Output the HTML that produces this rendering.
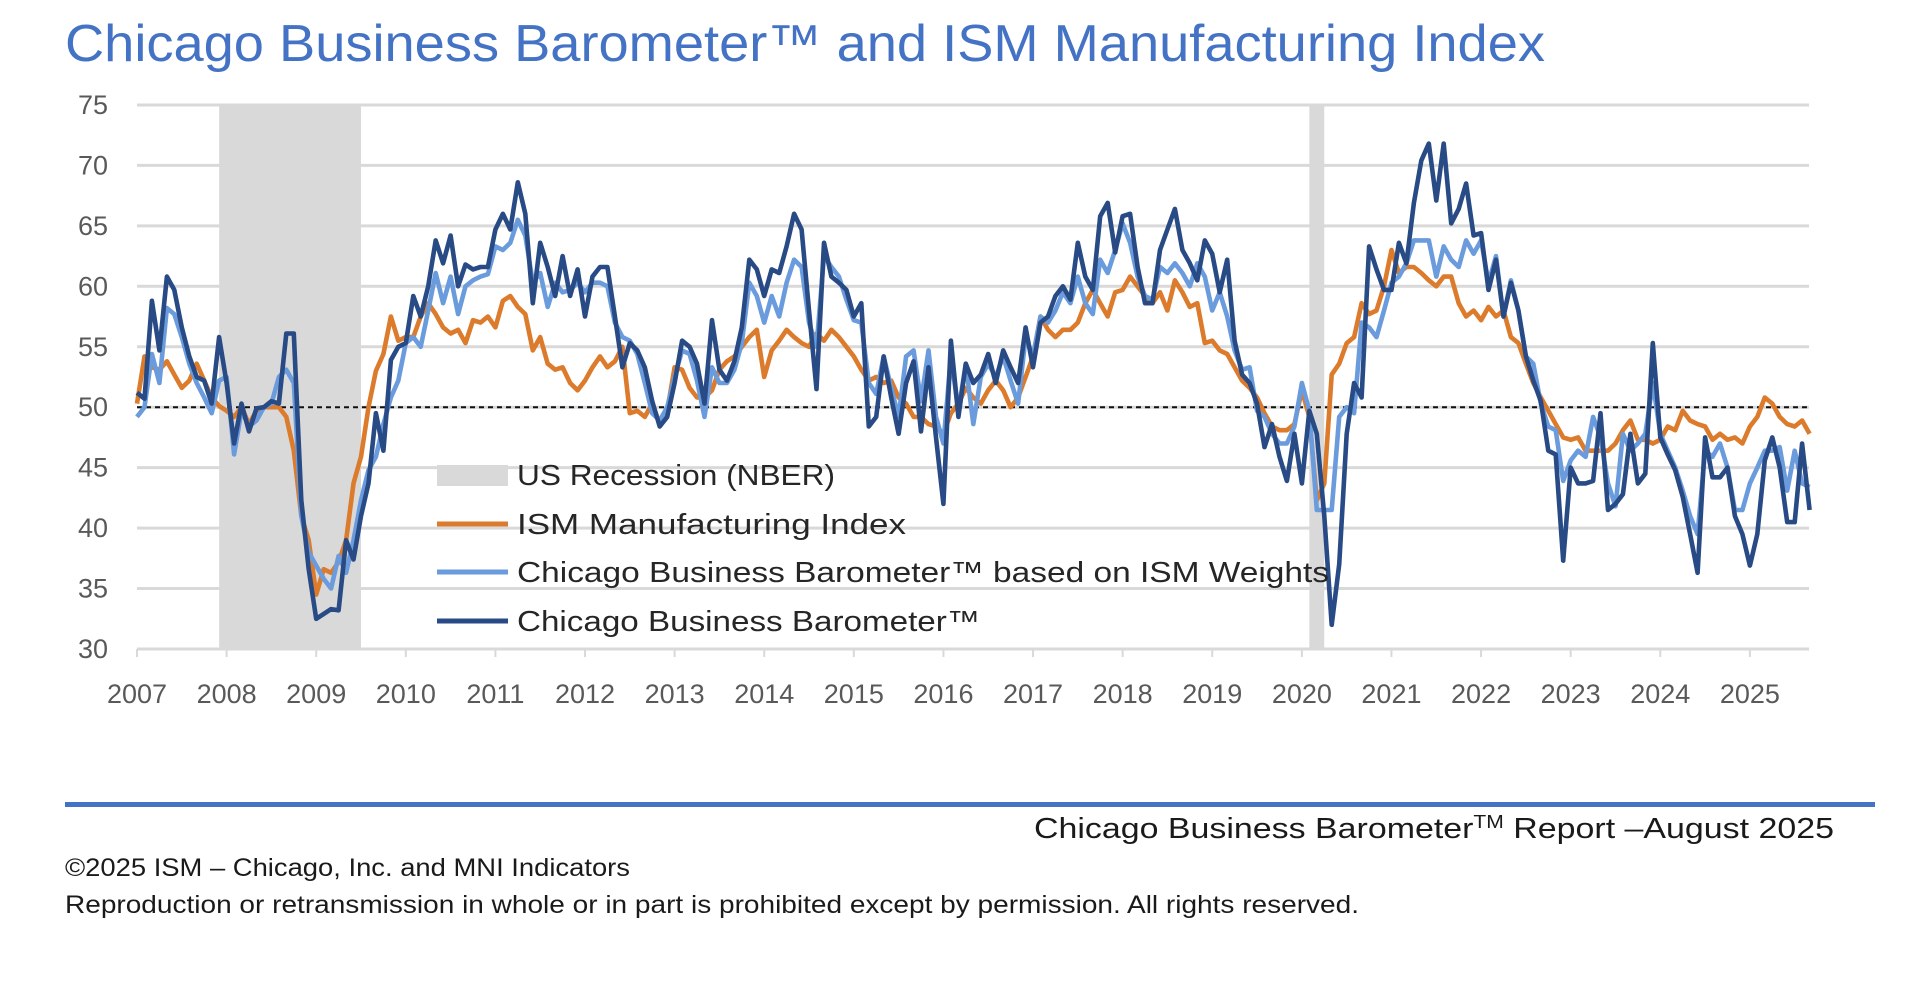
<!DOCTYPE html>
<html><head><meta charset="utf-8"><style>
html,body{margin:0;padding:0;background:#fff;}
svg{display:block;font-family:"Liberation Sans",sans-serif;}
</style></head><body>
<svg id="chart" width="1919" height="993" viewBox="0 0 1919 993" xmlns="http://www.w3.org/2000/svg">
<text x="65" y="61" font-size="52" fill="#4472C4" textLength="1480" lengthAdjust="spacingAndGlyphs">Chicago Business Barometer™ and ISM Manufacturing Index</text>
<g id="bands"></g>
<g id="grid"></g>
<g id="yaxis"></g>
<g id="xaxis"></g>
<g id="series"></g>
<g id="legend">
 <g><rect x="437" y="465" width="71" height="21" fill="#d9d9d9"/><text x="517" y="485" font-size="29" fill="#262626" textLength="318" lengthAdjust="spacingAndGlyphs">US Recession (NBER)</text></g>
 <g><line x1="437" y1="524" x2="508" y2="524" stroke="#DB7B2B" stroke-width="5"/><text x="517" y="534" font-size="29" fill="#262626" textLength="389" lengthAdjust="spacingAndGlyphs">ISM Manufacturing Index</text></g>
 <g><line x1="437" y1="572" x2="508" y2="572" stroke="#6A9BDC" stroke-width="5"/><text x="517" y="582" font-size="29" fill="#262626" textLength="812" lengthAdjust="spacingAndGlyphs">Chicago Business Barometer™ based on ISM Weights</text></g>
 <g><line x1="437" y1="621" x2="508" y2="621" stroke="#284A85" stroke-width="5"/><text x="517" y="631" font-size="29" fill="#262626" textLength="463" lengthAdjust="spacingAndGlyphs">Chicago Business Barometer™</text></g>
</g>
<rect x="65" y="802" width="1810" height="5" fill="#4472C4"/>
<text x="1034" y="838" font-size="29" fill="#1a1a1a" textLength="800" lengthAdjust="spacingAndGlyphs">Chicago Business Barometer<tspan dy="-10" font-size="18">TM</tspan><tspan dy="10"> Report –August 2025</tspan></text>
<text x="65" y="876" font-size="25" fill="#1a1a1a" textLength="565" lengthAdjust="spacingAndGlyphs">©2025 ISM – Chicago, Inc. and MNI Indicators</text>
<text x="65" y="913" font-size="25" fill="#1a1a1a" textLength="1294" lengthAdjust="spacingAndGlyphs">Reproduction or retransmission in whole or in part is prohibited except by permission. All rights reserved.</text>
</svg>
<script>
const yTicks = [30,35,40,45,50,55,60,65,70,75];
const yearLabels = ["2007","2008","2009","2010","2011","2012","2013","2014","2015","2016","2017","2018","2019","2020","2021","2022","2023","2024","2025"];
const recessions = [[11,30],[157,159]];
const cbb = [
51.2,50.7,58.8,54.7,60.8,59.7,56.6,54.2,52.5,52.2,50.3,55.8,
52,47,50.3,48,49.9,50,50.5,50.3,56.1,56.1,42.3,36.6,
32.5,32.9,33.3,33.2,39,37.4,41,43.7,49.5,46.4,53.9,55,
55.3,59.2,57.5,60,63.8,61.9,64.2,60,61.8,61.4,61.6,61.6,
64.7,66,64.7,68.6,66,58.6,63.6,61.6,59.2,62.5,59.2,61.4,
57.5,60.8,61.6,61.6,57.5,53.3,55.3,54.7,53.3,50.5,48.4,49.2,
52,55.5,55,53.6,50.3,57.2,53.1,52.2,53.8,56.6,62.2,61.4,
59.2,61.4,61.1,63.3,66,64.7,58,51.5,63.6,60.8,60.3,59.7,
57.5,58.6,48.4,49.2,54.2,50.8,47.8,52,53.8,48,53.3,47.5,
42,55.5,49.2,53.6,52,52.7,54.4,52,54.7,53.3,52,56.6,
53.3,57,57.5,59.2,60,58.9,63.6,60.8,59.7,65.8,66.9,62.8,
65.8,66,61.6,58.6,58.6,63,64.7,66.4,63,61.9,60.5,63.8,
62.7,59.5,62.2,55.5,52.7,52,50.3,46.7,48.6,45.9,43.9,47.8,
43.7,49.7,47.8,41,32,37,47.8,52,50.8,63.3,61.4,59.7,
59.7,63.6,61.9,66.9,70.4,71.8,67.1,71.8,65.2,66.4,68.5,64.2,
64.4,59.7,62.2,57.5,60.3,58,54.2,52.2,50.5,46.4,46.1,37.3,
45,43.7,43.7,43.9,49.5,41.5,42,42.8,47.8,43.7,44.5,55.3,
47.5,46.1,44.8,42.6,39.5,36.3,47.5,44.2,44.2,45,41,39.5,
36.9,39.5,45.6,47.5,45,40.5,40.5,47,41.5];
const cbbIsmWeights = [
49.2,50,54.4,52,58.2,57.7,55.8,53.6,52,50.8,49.5,52.2,
52.5,46.1,49.7,48.4,48.9,50,50.3,52.5,53.1,52,41,38,
36.9,35.8,35,37.7,36.3,39,42.3,44.8,45.9,48.6,50.8,52.2,
55.3,55.8,55,58,61.1,58.6,60.8,57.7,60,60.5,60.8,61,
63.3,63,63.6,65.5,64.2,60.3,61.1,58.3,60.3,59.5,59.7,60.3,
59.5,60.3,60.3,60,57,55.8,55.5,54.4,52,49.5,48.9,50,
52.5,54.7,54.4,52.2,49.2,53.3,52,52,53.1,55.3,60.3,59.2,
57,59.2,57.5,60.3,62.2,61.6,57,55,62.5,61.6,60.8,58.9,
57.2,57,52,51.1,54.2,51.6,49.2,54.2,54.7,50.5,54.7,49.2,
47,54.2,49.7,53.6,48.6,52.5,53.6,52.5,54.2,52.2,50.3,55.8,
54.2,57.5,57,58,59.5,58.6,60.8,58.6,57.7,62.2,61.1,63,
65.2,63.6,60.8,59.2,58.9,61.6,61.1,61.9,61.1,60,61.9,60.8,
58,59.5,57.5,54.7,53.1,53.3,49.7,49.2,47.8,47,47,48.4,
52,49.7,41.5,41.5,41.5,49.2,50,49.5,57,56.6,55.8,58,
60.3,60.8,61.9,63.8,63.8,63.8,60.8,63.3,62.2,61.6,63.8,62.7,
63.8,60.3,62.5,57.5,60.5,58,54.2,53.6,50.3,48.4,48.1,43.9,
45.6,46.4,45.9,49.2,47.5,43.7,41.8,47.8,46.4,47,47.8,52,
47.8,46.4,45,43.1,41,39.5,46.4,45.9,47,45,41.5,41.5,
43.7,45,46.4,46.4,46.7,43.1,46.4,43.7,43.4];
const ism = [
50.3,54.2,53.3,53.1,53.8,52.7,51.6,52.2,53.6,52.2,50.8,50.1,
49.7,49.2,50,48.6,49.7,50,50,50,49.2,46.4,41,39,
34.5,36.6,36.3,37.2,39,43.7,45.9,50,53,54.4,57.5,55.5,
55.8,55.8,57.5,58.6,57.7,56.6,56.1,56.4,55.3,57.2,57,57.5,
56.6,58.8,59.2,58.3,57.7,54.7,55.8,53.6,53.1,53.3,52,51.4,
52.2,53.3,54.2,53.3,53.8,55,49.5,49.7,49.2,50.3,48.6,49.7,
53.3,53.1,51.6,50.8,50.8,51.4,53.1,53.8,54.2,55,55.8,56.4,
52.5,54.7,55.5,56.4,55.8,55.3,55,56.1,55.5,56.4,55.8,55,
54.2,53.1,52.2,52.5,52,52.2,50.8,50.3,49.2,49.2,48.6,48.4,
47.8,49.5,50.3,51.6,50.8,50.3,51.4,52.2,51.4,50,50.8,52.5,
54.2,57.5,56.4,55.8,56.4,56.4,57,58.6,59.7,58.6,57.5,59.5,
59.7,60.8,60,59.2,58.6,59.5,58,60.5,59.5,58.3,58.6,55.3,
55.5,54.7,54.4,53.3,52.2,51.6,50.8,49.5,48.4,48.1,48.1,48.6,
51.4,49.2,42.3,43.7,52.7,53.6,55.3,55.8,58.6,57.7,58,60,
63,61.1,61.6,61.6,61.1,60.5,60,60.8,60.8,58.6,57.5,58,
57.2,58.3,57.5,58,55.8,55.3,53.6,52,50.8,49.7,48.6,47.5,
47.3,47.5,46.4,46.4,46.4,46.4,47,48.1,48.9,47.3,47.3,47,
47.3,48.4,48.1,49.7,48.9,48.6,48.4,47.3,47.8,47.3,47.5,47,
48.4,49.2,50.8,50.3,49.2,48.6,48.4,48.9,47.8];

const NS="http://www.w3.org/2000/svg";
const X0=137, MW=7.467, XEND=1809, Y30=649, PPU=12.09;
const xS = m => X0 + m*MW;
const yS = v => Y30 - (v-30)*PPU;
function mk(tag, attrs, parent){const e=document.createElementNS(NS,tag);for(const k in attrs)e.setAttribute(k,attrs[k]);parent.appendChild(e);return e;}

const bands=document.getElementById('bands');
recessions.forEach(r=>{
  const e=mk('rect',{x:xS(r[0]),y:yS(75),width:xS(r[1])-xS(r[0]),height:yS(30)-yS(75),fill:'#d9d9d9'},bands);
  
  
});
const grid=document.getElementById('grid'), yax=document.getElementById('yaxis');
yTicks.forEach(v=>{
  const l=mk('line',{x1:X0,x2:XEND,y1:yS(v),y2:yS(v),stroke:'#d9d9d9','stroke-width':3},grid);
  
  
  const t=mk('text',{x:108,y:yS(v)+9,'font-size':27,fill:'#595959','text-anchor':'end'},yax);
  t.textContent=v;
  
  
});
const ref=mk('line',{x1:X0,x2:XEND,y1:yS(50),y2:yS(50),stroke:'#111','stroke-width':2,'stroke-dasharray':'5,4'},grid);


const xax=document.getElementById('xaxis');
yearLabels.forEach((y,i)=>{
  const x=xS(i*12);
  const tk=mk('line',{x1:x,x2:x,y1:Y30,y2:Y30+8,stroke:'#d9d9d9','stroke-width':2},xax);
  
  
  const t=mk('text',{x:x,y:703,'font-size':27,fill:'#595959','text-anchor':'middle'},xax);
  t.textContent=y;
  
  
});
const ser=document.getElementById('series');
function line(data,color,name){
  const p=mk('polyline',{points:data.map((v,i)=>xS(i).toFixed(1)+','+yS(v).toFixed(1)).join(' '),fill:'none',stroke:color,'stroke-width':4.6,'stroke-linejoin':'round'},ser);
  
  
}
line(ism,'#DB7B2B','ism-line');
line(cbbIsmWeights,'#6A9BDC','cbb-ism-weights-line');
line(cbb,'#284A85','cbb-line');
</script>
</body></html>
